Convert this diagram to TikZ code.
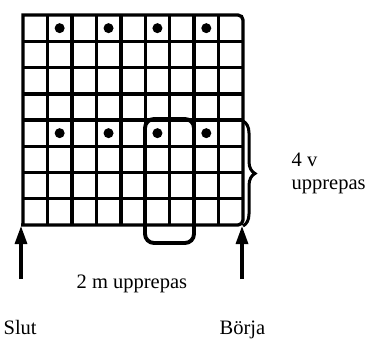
\documentclass[tikz,border=0pt]{standalone}
\usepackage{fontspec}
\setmainfont{Liberation Serif}
\usetikzlibrary{arrows.meta, decorations.pathreplacing}

\begin{document}
\begin{tikzpicture}[x=1pt, y=-1pt, line width=3.3pt, every node/.style={font=\fontsize{20.5}{23}\selectfont, inner sep=0pt}]
  \useasboundingbox (0,0) rectangle (367,338);
  % ---------- GRID ----------
  \foreach \i in {1,...,8} \draw (23+\i*24.44,15) -- (23+\i*24.44,225);
  \foreach \j in {1,...,7} \draw (23,15+\j*26.25) -- (243,15+\j*26.25);
  \draw[line width=4.2pt] (23+4*24.44,15) -- (23+4*24.44,225);
  \draw[line width=4.2pt] (23,15+3*26.25) -- (243,15+3*26.25);
  \draw (23,225) -- (23,15) [rounded corners=5pt] -- (243,15) -- (243,225) -- (21,225);
  \foreach \c in {2,4,6,8} \foreach \r in {1,5}
    \fill (23+\c*24.44-12.22,15+\r*26.25-13.1) circle (5pt);
  % ---------- REPEAT ----------
  \draw[line width=3.9pt, rounded corners=9pt] (145,119) rectangle (194,243);
  \draw[line width=3pt, decorate, decoration={brace, amplitude=12pt, aspect=0.5}] (243,121) -- (243,226);
  \node[anchor=base west] (rows) at (290,166) {4 v};
  \node[anchor=base west] (rowsrep) at (290,189) {upprepas};
  \node[anchor=base west] (sts) at (75,288) {2 m upprepas};
  % ---------- ARROWS ----------
  \coordinate (slutfoot) at (21,279);
  \coordinate (slutedge) at (21,226);
  \coordinate (borjafoot) at (242,279);
  \coordinate (borjaedge) at (242,226);
  \draw[line width=3.2pt, -{Triangle[length=18pt, width=12pt]}] (slutfoot) -- (slutedge);
  \draw[line width=3.2pt, -{Triangle[length=18pt, width=12pt]}] (borjafoot) -- (borjaedge);
  \node[anchor=base west] (slut) at (2,334) {Slut};
  \node[anchor=base west] (borja) at (218,334) {Börja};
\end{tikzpicture}
\end{document}
